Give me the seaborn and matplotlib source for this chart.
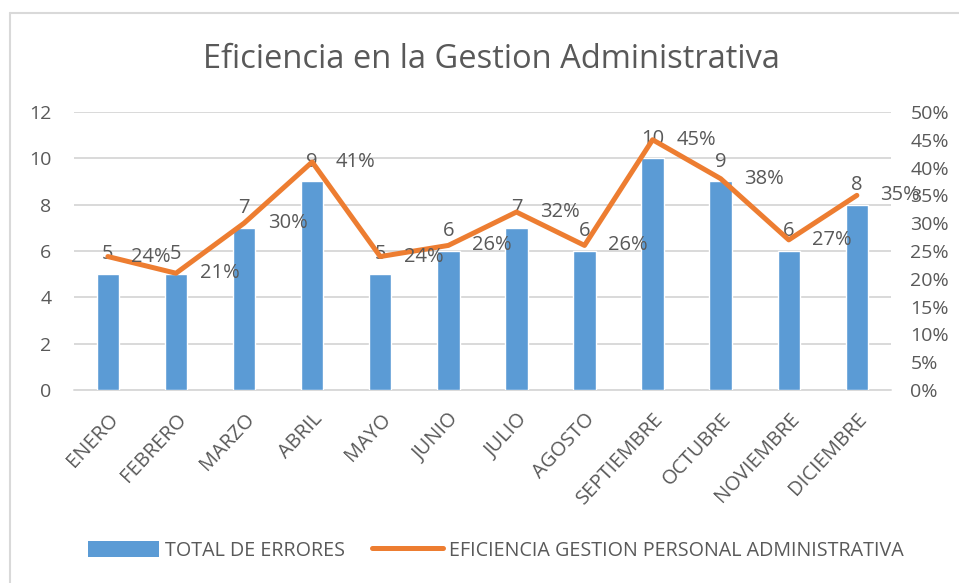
import matplotlib
matplotlib.use("Agg")
import matplotlib.pyplot as plt
from matplotlib.lines import Line2D
from matplotlib.patches import Patch
import seaborn as sns
import pandas as pd

# Monthly data
meses = ["ENERO", "FEBRERO", "MARZO", "ABRIL", "MAYO", "JUNIO", "JULIO",
         "AGOSTO", "SEPTIEMBRE", "OCTUBRE", "NOVIEMBRE", "DICIEMBRE"]
total_errores = [5, 5, 7, 9, 5, 6, 7, 6, 10, 9, 6, 8]
eficiencia = [0.24, 0.21, 0.30, 0.41, 0.24, 0.26, 0.32, 0.26, 0.45, 0.38, 0.27, 0.35]
left_ticks = [0, 2, 4, 6, 8, 10, 12]
right_ticks = [0, 0.05, 0.10, 0.15, 0.20, 0.25, 0.30, 0.35, 0.40, 0.45, 0.50]

titulo = "Eficiencia en la Gestion Administrativa"
serie_barras = "TOTAL DE ERRORES"
serie_linea = "EFICIENCIA GESTION PERSONAL ADMINISTRATIVA"

BLUE = "#5B9BD5"
ORANGE = "#ED7D31"
TEXT = "#595959"
GRID = "#D9D9D9"

sns.set_theme(style="white")
plt.rcParams["font.family"] = ["Open Sans", "DejaVu Sans"]

df = pd.DataFrame({"mes": meses, "errores": total_errores, "eficiencia": eficiencia})

fig = plt.figure(figsize=(9.59, 5.83), dpi=100)
ax = fig.add_axes([0.077, 0.331, 0.852, 0.477])

sns.barplot(data=df, x="mes", y="errores", color=BLUE, width=0.33,
            saturation=1, ax=ax, zorder=2)
ax.set_xlim(-0.5, len(meses) - 0.5)
ax.set_ylim(0, 12)
ax.set_yticks(left_ticks)
ax.set_yticklabels([str(t) for t in left_ticks])
ax.yaxis.grid(True, color=GRID, linewidth=1.4)
ax.set_axisbelow(True)
ax.set_xlabel("")
ax.set_ylabel("")
for s in ax.spines.values():
    s.set_visible(False)
ax.tick_params(axis="y", length=0, pad=16, labelsize=14, labelcolor=TEXT)
ax.tick_params(axis="x", length=0, pad=14, labelsize=14.5, labelcolor=TEXT)
plt.setp(ax.get_xticklabels(), rotation=47, ha="right", rotation_mode="anchor")
ax.plot([-0.5, len(meses) - 0.5], [0, 0], color=GRID, linewidth=1.4,
        zorder=1, clip_on=False)

# Value labels above the bars
for i, v in enumerate(total_errores):
    ax.annotate(str(v), (i, v), xytext=(0, 7), textcoords="offset points",
                ha="center", va="bottom", fontsize=14.5, color=TEXT, zorder=5)

ax2 = ax.twinx()
sns.lineplot(x=list(range(len(meses))), y=eficiencia, color=ORANGE,
             linewidth=3.6, ax=ax2, zorder=3)
ax2.set_ylim(0, 0.5)
ax2.set_yticks(right_ticks)
ax2.set_yticklabels([f"{int(round(t * 100))}%" for t in right_ticks])
ax2.tick_params(axis="y", length=0, pad=14, labelsize=14, labelcolor=TEXT)
for s in ax2.spines.values():
    s.set_visible(False)
ax2.set_xlim(-0.5, len(meses) - 0.5)

# Percentage labels to the right of each point
for i, v in enumerate(eficiencia):
    ax2.annotate(f"{int(round(v * 100))}%", (i, v), xytext=(17, 0),
                 textcoords="offset points", ha="left", va="center",
                 fontsize=14.5, color=TEXT, zorder=6)

fig.text(0.512, 0.898, titulo, ha="center", va="center", fontsize=23.5, color=TEXT)

handles = [Patch(facecolor=BLUE, edgecolor="none"),
           Line2D([0], [0], color=ORANGE, linewidth=3.6)]
fig.legend(handles, [serie_barras, serie_linea], loc="center",
           bbox_to_anchor=(0.517, 0.055), ncol=2, frameon=False, fontsize=14.2,
           labelcolor=TEXT, handlelength=3.6, handleheight=0.9,
           columnspacing=1.4, handletextpad=0.3)

# Chart area border (top and left edges)
x0, y0 = 10 / 959, 1 - 13 / 583
fig.add_artist(Line2D([x0, 1.0], [y0, y0], transform=fig.transFigure,
                      color=GRID, linewidth=1.5))
fig.add_artist(Line2D([x0, x0], [0.0, y0], transform=fig.transFigure,
                      color=GRID, linewidth=1.5))

fig.savefig("out.png", dpi=100, facecolor="white")
